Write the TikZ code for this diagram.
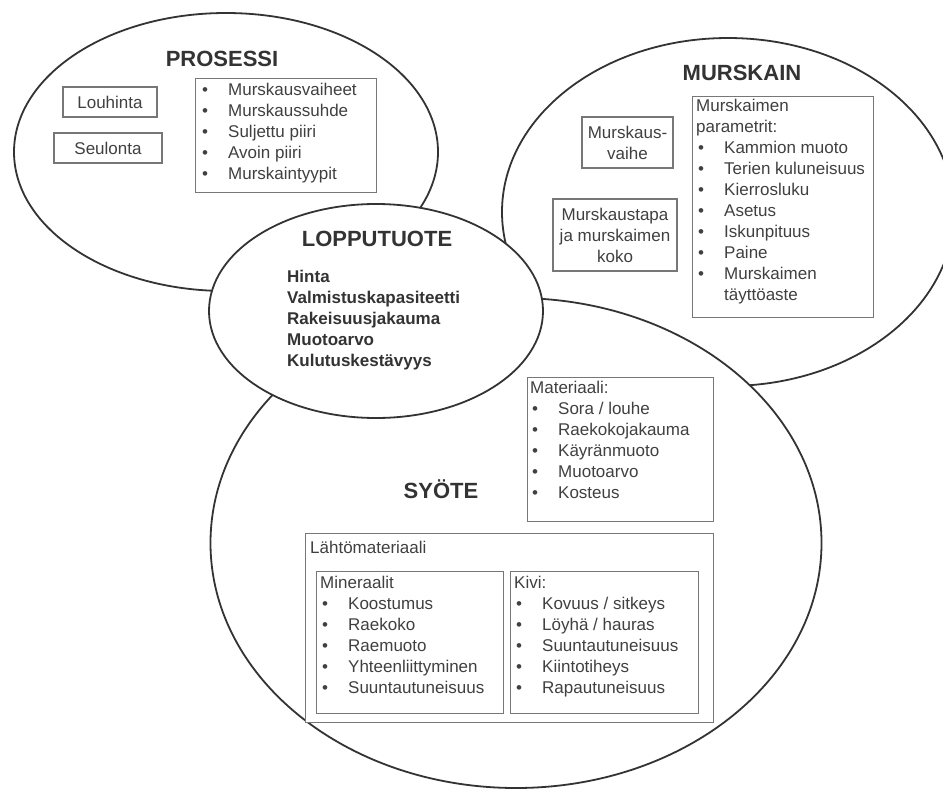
\documentclass[tikz,border=0pt]{standalone}
\usepackage{fontspec}
\setmainfont{Liberation Sans}
\usetikzlibrary{shapes.geometric}
\definecolor{ink}{HTML}{333333}
\definecolor{txtc}{HTML}{404040}
\definecolor{boxc}{HTML}{777777}
\newcommand\bl{\makebox[28pt][l]{\hspace{2pt}\textbullet}}
\newcommand\pb{\makebox[26pt][l]{\textbullet}}
\tikzset{
  oval/.style={ellipse, draw=ink, line width=1.8pt, fill=white, inner sep=0pt},
  ttl/.style={font=\fontsize{22}{26}\selectfont\bfseries, text=ink, anchor=base, inner sep=0pt},
  frame/.style={draw=boxc, line width=1.3pt, anchor=north west, inner sep=0pt, fill=white},
  cbox/.style={draw=boxc, line width=1.3pt, inner sep=0pt, align=center, text=txtc,
    font=\fontsize{17}{21}\selectfont},
  txt/.style={anchor=north west, inner sep=0pt, align=left, text=txtc,
    font=\fontsize{17}{21}\selectfont, execute at begin node={\rule{0pt}{16pt}}},
}
\begin{document}
\begin{tikzpicture}[x=1pt,y=-1pt]
\useasboundingbox (0,0) rectangle (943,790);
\clip (0,0) rectangle (943,790);
\fill[white] (0,0) rectangle (943,790);
% ellipses
\node[oval, minimum width=424pt, minimum height=278pt] (prosessi) at (226,152) {};
\node[oval, minimum width=452pt, minimum height=348pt] (murskain) at (728,212) {};
\node[oval, minimum width=611pt, minimum height=490pt] (syote) at (516,543) {};
\node[oval, minimum width=334pt, minimum height=214pt] (lopputuote) at (376,311) {};
% titles
\node[ttl] (tprosessi) at (222,66) {PROSESSI};
\node[ttl] (tmurskain) at (742,80) {MURSKAIN};
\node[ttl] (tloppu) at (377,246) {LOPPUTUOTE};
\node[ttl] (tsyote) at (441,498) {SYÖTE};
% PROSESSI boxes
\node[cbox, minimum width=94pt, minimum height=30pt] (louhinta) at (110,102) {Louhinta};
\node[cbox, minimum width=108pt, minimum height=30pt] (seulonta) at (108,148) {Seulonta};
\node[frame, minimum width=181pt, minimum height=114pt] (plist) at (195,78) {};
\node[txt] (plistt) at (202,83) {\pb Murskausvaiheet\\ \pb Murskaussuhde\\ \pb Suljettu piiri\\ \pb Avoin piiri\\ \pb Murskaintyypit};
% MURSKAIN boxes
\node[cbox, minimum width=91pt, minimum height=51pt] (vaihe) at (627.5,142.5) {Murskaus-\\vaihe};
\node[cbox, minimum width=124pt, minimum height=72pt] (tapa) at (615,235) {Murskaustapa\\ja murskaimen\\koko};
\node[frame, minimum width=181pt, minimum height=221pt] (param) at (692,96) {};
\node[txt] (paramt) at (696,99) {Murskaimen\\parametrit:\\ \bl Kammion muoto\\ \bl Terien kuluneisuus\\ \bl Kierrosluku\\ \bl Asetus\\ \bl Iskunpituus\\ \bl Paine\\ \bl Murskaimen\\ \hspace*{28pt}täyttöaste};
% LOPPUTUOTE list
\node[txt, font=\fontsize{17}{21}\selectfont\bfseries, text=ink] (loppulist) at (287,270) {Hinta\\Valmistuskapasiteetti\\Rakeisuusjakauma\\Muotoarvo\\Kulutuskestävyys};
% SYÖTE boxes
\node[frame, minimum width=186pt, minimum height=144pt] (mat) at (527,377) {};
\node[txt] (matt) at (530,381) {Materiaali:\\ \bl Sora / louhe\\ \bl Raekokojakauma\\ \bl Käyränmuoto\\ \bl Muotoarvo\\ \bl Kosteus};
\node[frame, minimum width=408pt, minimum height=189pt] (lahto) at (305,533) {};
\node[txt] (lahtot) at (310,537) {Lähtömateriaali};
\node[frame, minimum width=187pt, minimum height=142pt] (miner) at (316,571) {};
\node[txt] (minert) at (320,576) {Mineraalit\\ \bl Koostumus\\ \bl Raekoko\\ \bl Raemuoto\\ \bl Yhteenliittyminen\\ \bl Suuntautuneisuus};
\node[frame, minimum width=188pt, minimum height=142pt] (kivi) at (510,571) {};
\node[txt] (kivit) at (514,576) {Kivi:\\ \bl Kovuus / sitkeys\\ \bl Löyhä / hauras\\ \bl Suuntautuneisuus\\ \bl Kiintotiheys\\ \bl Rapautuneisuus};
\end{tikzpicture}
\end{document}
